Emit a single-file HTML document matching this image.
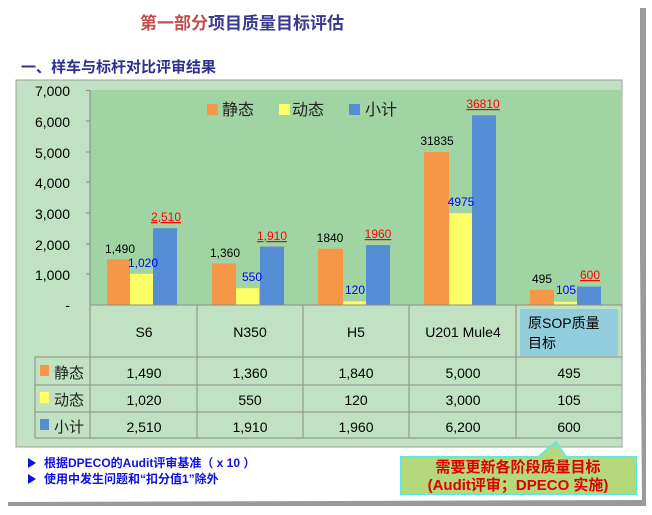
<!DOCTYPE html>
<html><head><meta charset="utf-8"><style>
body{margin:0;width:652px;height:510px;background:#fff;overflow:hidden;font-family:"Liberation Sans","Noto Sans CJK SC",sans-serif}
</style></head><body>
<svg width="652" height="510" xmlns="http://www.w3.org/2000/svg" font-family="Liberation Sans, Noto Sans CJK SC, sans-serif">
<rect x="0" y="0" width="652" height="510" fill="#fff"/>
<path d="M638 8 L642 500 L8 502 L8 506 L646 506 L646 8 Z" fill="#9a9a9a"/>
<rect x="0" y="0" width="640" height="500" fill="#fff"/>
<text x="140" y="29" font-size="17" font-weight="bold" fill="#c0504d">第一部分<tspan fill="#3a3a8c">项目质量目标评估</tspan></text>
<text x="21" y="72" font-size="15" font-weight="bold" fill="#2e3192">一、样车与标杆对比评审结果</text>
<!-- chart box -->
<rect x="16" y="80" width="606" height="367" fill="#c0e2c3" stroke="#a0a0a0"/>
<rect x="90" y="90" width="532" height="215" fill="#a0d5a3"/>
<g stroke="#888" stroke-width="1">
<line x1="90" y1="90" x2="90" y2="305"/>
<line x1="86" y1="90.5" x2="90" y2="90.5"/><line x1="86" y1="121" x2="90" y2="121"/><line x1="86" y1="152" x2="90" y2="152"/><line x1="86" y1="182" x2="90" y2="182"/><line x1="86" y1="213" x2="90" y2="213"/><line x1="86" y1="244" x2="90" y2="244"/><line x1="86" y1="274" x2="90" y2="274"/>
</g>
<g font-size="14" fill="#000" text-anchor="end">
<text x="70" y="96">7,000</text><text x="70" y="127">6,000</text><text x="70" y="158">5,000</text><text x="70" y="188">4,000</text><text x="70" y="219">3,000</text><text x="70" y="250">2,000</text><text x="70" y="280">1,000</text><text x="70" y="310">-</text>
</g>
<!-- legend -->
<rect x="207" y="104" width="11" height="11" fill="#f79646"/><text x="222" y="115" font-size="16" fill="#222">静态</text>
<rect x="279" y="104" width="11" height="11" fill="#ffff66"/><text x="292" y="115" font-size="16" fill="#222">动态</text>
<rect x="349" y="104" width="11" height="11" fill="#558ed5"/><text x="365" y="115" font-size="16" fill="#222">小计</text>
<!-- bars -->
<g>
<rect x="107" y="259.4" width="23" height="45.6" fill="#f79646"/><rect x="130" y="273.8" width="23" height="31.2" fill="#ffff66"/><rect x="153" y="228.2" width="24" height="76.8" fill="#558ed5"/>
<rect x="212" y="263.4" width="24" height="41.6" fill="#f79646"/><rect x="236" y="288.2" width="23" height="16.8" fill="#ffff66"/><rect x="260" y="246.6" width="24" height="58.4" fill="#558ed5"/>
<rect x="318" y="248.7" width="25" height="56.3" fill="#f79646"/><rect x="343" y="301.3" width="23" height="3.7" fill="#ffff66"/><rect x="366" y="245" width="24" height="60" fill="#558ed5"/>
<rect x="424" y="152" width="25" height="153" fill="#f79646"/><rect x="449" y="213.2" width="23" height="91.8" fill="#ffff66"/><rect x="472" y="115.3" width="24" height="189.7" fill="#558ed5"/>
<rect x="530" y="289.9" width="24" height="15.1" fill="#f79646"/><rect x="554" y="301.8" width="23" height="3.2" fill="#ffff66"/><rect x="577" y="286.6" width="24" height="18.4" fill="#558ed5"/>
</g>
<g font-size="12">
<text x="120" y="253" text-anchor="middle" fill="#000">1,490</text>
<text x="143" y="267" text-anchor="middle" fill="#0000ff">1,020</text>
<text x="166" y="221" text-anchor="middle" fill="#ff0000" text-decoration="underline">2,510</text>
<text x="225" y="257" text-anchor="middle" fill="#000">1,360</text>
<text x="252" y="281" text-anchor="middle" fill="#0000ff">550</text>
<text x="272" y="240" text-anchor="middle" fill="#ff0000" text-decoration="underline">1,910</text>
<text x="330" y="242" text-anchor="middle" fill="#000">1840</text>
<text x="355" y="294" text-anchor="middle" fill="#0000ff">120</text>
<text x="378" y="238" text-anchor="middle" fill="#ff0000" text-decoration="underline">1960</text>
<text x="437" y="145" text-anchor="middle" fill="#000">31835</text>
<text x="461" y="206" text-anchor="middle" fill="#0000ff">4975</text>
<text x="483" y="108" text-anchor="middle" fill="#ff0000" text-decoration="underline">36810</text>
<text x="542" y="283" text-anchor="middle" fill="#000">495</text>
<text x="566" y="294" text-anchor="middle" fill="#0000ff">105</text>
<text x="590" y="279" text-anchor="middle" fill="#ff0000" text-decoration="underline">600</text>
</g>
<!-- table -->
<rect x="520" y="309" width="98" height="47" fill="#92cddc"/>
<g stroke="#8a8a8a" stroke-width="1" fill="none">
<line x1="90" y1="305" x2="622" y2="305"/>
<line x1="35" y1="357" x2="622" y2="357"/>
<line x1="35" y1="385" x2="622" y2="385"/>
<line x1="35" y1="412" x2="622" y2="412"/>
<line x1="35" y1="438" x2="622" y2="438"/>
<line x1="35" y1="357" x2="35" y2="438"/>
<line x1="90" y1="305" x2="90" y2="438"/>
<line x1="197" y1="305" x2="197" y2="438"/>
<line x1="303" y1="305" x2="303" y2="438"/>
<line x1="409" y1="305" x2="409" y2="438"/>
<line x1="516" y1="305" x2="516" y2="438"/>
</g>
<g font-size="14" fill="#000" text-anchor="middle">
<text x="144" y="337">S6</text><text x="250" y="337">N350</text><text x="356" y="337">H5</text><text x="463" y="337">U201 Mule4</text>
<text x="528" y="328" text-anchor="start">原SOP质量</text><text x="528" y="348" text-anchor="start">目标</text>
<text x="144" y="378">1,490</text><text x="250" y="378">1,360</text><text x="356" y="378">1,840</text><text x="463" y="378">5,000</text><text x="569" y="378">495</text>
<text x="144" y="405">1,020</text><text x="250" y="405">550</text><text x="356" y="405">120</text><text x="463" y="405">3,000</text><text x="569" y="405">105</text>
<text x="144" y="432">2,510</text><text x="250" y="432">1,910</text><text x="356" y="432">1,960</text><text x="463" y="432">6,200</text><text x="569" y="432">600</text>
</g>
<rect x="40" y="365" width="9" height="11" fill="#f79646"/><text x="54" y="378" font-size="15" fill="#222">静态</text>
<rect x="40" y="392" width="9" height="11" fill="#ffff66"/><text x="54" y="405" font-size="15" fill="#222">动态</text>
<rect x="40" y="419" width="9" height="11" fill="#558ed5"/><text x="54" y="432" font-size="15" fill="#222">小计</text>
<!-- notes -->
<g fill="#1010e0" font-size="12" font-weight="bold">
<path d="M28 458 L36 463 L28 468 Z"/><text x="44" y="467">根据DPECO的Audit评审基准（ x 10 ）</text>
<path d="M28 474 L36 479 L28 484 Z"/><text x="44" y="483">使用中发生问题和“扣分值1”除外</text>
</g>
<!-- callout -->
<path d="M401 457 L538 457 L556 442 L566 457 L636 457 L636 494 L401 494 Z" fill="#b3d97a" stroke="#5fe8e8" stroke-width="2"/>
<g fill="#e00000" font-size="15" font-weight="bold" text-anchor="middle">
<text x="518" y="472">需要更新各阶段质量目标</text>
<text x="518" y="490">(Audit评审；DPECO 实施)</text>
</g>
</svg>
</body></html>
